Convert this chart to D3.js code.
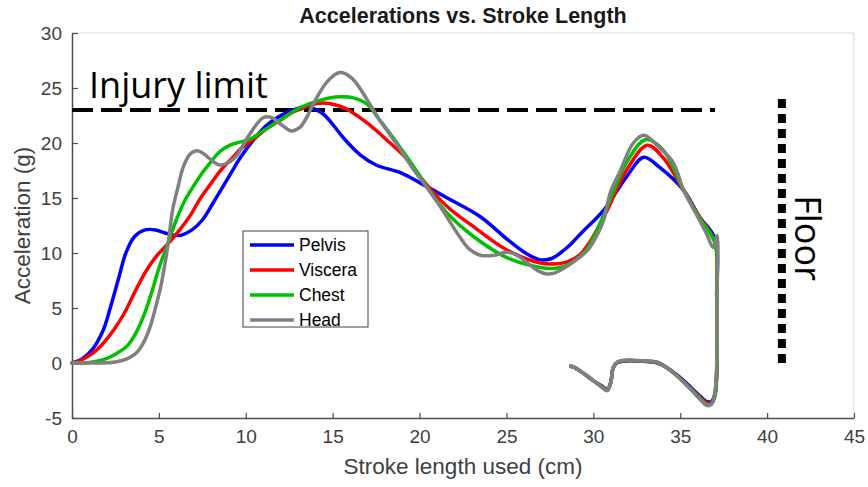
<!DOCTYPE html>
<html>
<head>
<meta charset="utf-8">
<script src="https://cdn.jsdelivr.net/npm/d3@7"></script>
<style>
  body { margin: 0; background: #fff; }
  text { font-family: "Liberation Sans", Arial, sans-serif; }
</style>
</head>
<body>
<div id="chart"></div>
<script>
// series names and colours
const seriesNames = ["Pelvis", "Viscera", "Chest", "Head"];
const seriesColors = ["#0000ff", "#ff0000", "#00c000", "#808080"];

// [stroke length (cm), acceleration (g)]
const pelvis = [[0,0],[0.6,0.4],[1.2,1.3],[1.8,3],[2.2,5],[2.7,7.8],[3.1,10],[3.6,11.5],[4.2,12.1],[4.8,12.1],
  [5.4,11.8],[6.2,11.6],[6.9,12.1],[7.5,13],[8.1,14.5],[8.6,15.8],[9.2,17.4],[9.7,18.7],[10.4,20.2],[11.2,21.6],
  [12.4,22.8],[13.5,23.3],[14.4,22.7],[15,21.7],[15.6,20.5],[16.6,18.9],[17.5,18],[18.9,17.3],[20,16.4],[21.6,15],
  [23.5,13.3],[25,11.3],[26,10.1],[26.9,9.4],[27.6,9.5],[28.1,10],[28.7,10.8],[29.3,11.8],[30.6,13.9],[31.9,16.9],
  [32.9,18.7],[33.8,17.8],[35.2,15.7],[36.1,13.3],[37,11.3],
  [37.1,6],[37.1,-0.9],[37,-2.8],[36.8,-3.5],[36.5,-3.5],[36.2,-3.1],[35.6,-2.2],[34.9,-1.2],[34.3,-0.5],[33.7,0],
  [32.8,0.15],[32,0.2],[31.4,0.05],[31.15,-0.4],[31,-1.8],[30.8,-2.4],[30.5,-2.1],[30,-1.6],[29.4,-0.9],[28.9,-0.4],[28.7,-0.3]];

const viscera = [[0,0],[0.5,0.25],[1.2,0.9],[1.8,1.8],[2.4,3],[3,4.5],[3.6,6.4],[4.2,8.2],[4.8,9.6],[5.5,10.8],
  [6.2,12.1],[6.8,13.4],[7.4,15],[7.9,16.1],[8.6,17.6],[9.2,18.6],[9.8,19.6],[10.5,20.4],[11.2,21.3],[12,22.1],
  [12.7,22.8],[13.5,23.3],[14.1,23.6],[14.8,23.6],[15.5,23.3],[16,22.9],[17,21.8],[18.1,20.3],[19.3,18.5],[20,17],
  [21.6,14.2],[23.1,12.4],[25,10.3],[26.9,9.1],[27.7,9],[28.5,9.2],[29.2,9.8],[29.8,11],[30.8,13.9],[31.9,17.5],
  [33.1,19.8],[34,18.7],[35.2,15.7],[36.1,13.3],[37,11],
  [37.1,6],[37.1,-0.9],[37,-2.9],[36.8,-3.6],[36.5,-3.6],[36.2,-3.2],[35.6,-2.3],[34.9,-1.25],[34.3,-0.5],[33.7,0.02],
  [32.8,0.18],[32,0.22],[31.4,0.08],[31.15,-0.4],[31,-1.8],[30.8,-2.45],[30.5,-2.15],[30,-1.6],[29.4,-0.9],[28.9,-0.4],[28.7,-0.3]];

const chest = [[0,0],[1,0.05],[1.8,0.3],[2.5,0.8],[3.2,1.6],[3.7,2.8],[4.2,4.6],[4.6,6.5],[5,8.6],[5.5,10.8],
  [6,13],[6.5,14.8],[7,16.1],[7.5,17.3],[7.9,18.1],[8.5,19.2],[9.1,19.8],[9.7,20.1],[10.2,20.3],[10.8,20.9],
  [11.4,21.5],[12,22.1],[13.1,23.2],[14.3,23.9],[15.4,24.2],[16.2,24.1],[17,23.5],[17.7,22.1],[18.7,20],[19.9,17.3],
  [20.6,15.6],[21.6,13.6],[23.1,11.5],[25,9.6],[26.9,8.7],[27.7,8.6],[28.5,8.9],[29.6,10.3],[30.8,14.2],[31.9,18.2],
  [33,20.3],[34,19.4],[35.2,15.7],[36.1,13.2],[37,10.9],
  [37.1,6],[37.1,-0.9],[37,-3],[36.8,-3.7],[36.5,-3.75],[36.2,-3.3],[35.6,-2.35],[34.9,-1.3],[34.3,-0.5],[33.7,0.05],
  [32.8,0.2],[32,0.25],[31.4,0.1],[31.15,-0.4],[31,-1.8],[30.8,-2.5],[30.5,-2.2],[30,-1.6],[29.4,-0.9],[28.9,-0.4],[28.7,-0.3]];

const head = [[0,0],[1.5,0],[2.5,0.1],[3.2,0.4],[3.7,0.9],[4.1,1.8],[4.5,3.3],[4.8,5],[5.1,6.9],[5.5,10.5],
  [5.8,14],[6.1,16],[6.4,17.8],[6.8,19],[7.2,19.3],[7.6,19],[7.9,18.6],[8.5,18],[9,18.2],[9.5,18.9],
  [10.1,20.5],[11,22.3],[11.5,22.3],[12.1,21.6],[12.6,21.1],[13.1,21.4],[13.5,22.3],[13.9,23.6],[14.7,25.6],[15.4,26.4],
  [16.1,25.9],[17,23.9],[17.7,22.1],[18.9,19.4],[19.6,17.7],[20.4,16],[21.2,14.2],[22.3,11.5],[22.9,10.3],[23.5,9.8],
  [24.3,9.8],[25,10.1],[25.6,9.8],[26.2,9.1],[26.8,8.4],[27.3,8.1],[27.8,8.2],[28.5,8.8],[29.2,9.6],[29.7,10.3],
  [30.3,11.9],[30.6,13],[31,15.6],[31.5,17.3],[32.3,20],[32.9,20.7],[33.8,19.6],[34.6,18.2],[35.2,15.7],[36,13.3],
  [36.5,11.8],[36.9,10.5],[37.12,11.6],
  [37.12,6],[37.1,0],[37,-2.6],[36.8,-3.75],[36.5,-3.85],[36.2,-3.4],[35.6,-2.4],[34.9,-1.3],[34.3,-0.5],[33.7,0.05],
  [32.8,0.2],[32,0.25],[31.4,0.1],[31.15,-0.4],[31,-1.8],[30.8,-2.5],[30.5,-2.2],[30,-1.6],[29.4,-0.9],[28.9,-0.4],[28.7,-0.3]];

const xTicks = [0, 5, 10, 15, 20, 25, 30, 35, 40, 45];
const yTicks = [-5, 0, 5, 10, 15, 20, 25, 30];
const injuryLimit = 23;       // g
const injuryLimitEnd = 37;    // cm
const floorX = 40.85;         // cm
const floorTop = 24;          // g

const width = 868, height = 487;
const margin = { top: 33, right: 14, bottom: 69, left: 72 };

const svg = d3.select("#chart").append("svg")
  .attr("width", width)
  .attr("height", height);

svg.append("rect").attr("width", width).attr("height", height).attr("fill", "#fff");

const x = d3.scaleLinear().domain([0, 45]).range([margin.left, width - margin.right]);
const y = d3.scaleLinear().domain([-5, 30]).range([height - margin.bottom, margin.top]);

// box (light top/right edges)
svg.append("path")
  .attr("d", `M${x(0)},${y(30)}H${x(45)}V${y(-5)}`)
  .attr("fill", "none")
  .attr("stroke", "#d9d9d9")
  .attr("stroke-width", 1);

const axisColor = "#4d4d4d";

const xAxis = svg.append("g")
  .attr("transform", `translate(0,${y(-5)})`)
  .call(d3.axisBottom(x).tickValues(xTicks).tickSize(-5).tickSizeOuter(0).tickPadding(12)
    .tickFormat(d => String(d)));

const yAxis = svg.append("g")
  .attr("transform", `translate(${x(0)},0)`)
  .call(d3.axisLeft(y).tickValues(yTicks).tickSize(-6).tickSizeOuter(0).tickPadding(10)
    .tickFormat(d => String(d)));

[xAxis, yAxis].forEach(g => {
  g.select(".domain").attr("stroke", axisColor).attr("stroke-width", 1.5);
  g.selectAll(".tick line").attr("stroke", axisColor).attr("stroke-width", 1.2);
  g.selectAll(".tick text")
    .attr("fill", "#404040")
    .style("font-size", "19px")
    .style("font-family", "'Liberation Sans', Arial, sans-serif");
});

// title and axis labels
svg.append("text")
  .attr("x", 463).attr("y", 23)
  .attr("text-anchor", "middle")
  .attr("font-weight", "bold")
  .attr("font-size", 21.5)
  .attr("fill", "#1a1a1a")
  .text("Accelerations vs. Stroke Length");

svg.append("text")
  .attr("x", (x(0) + x(45)) / 2).attr("y", 474)
  .attr("text-anchor", "middle")
  .attr("font-size", 22.5)
  .attr("fill", "#404040")
  .text("Stroke length used (cm)");

svg.append("text")
  .attr("transform", `translate(30,${(y(-5) + y(30)) / 2}) rotate(-90)`)
  .attr("text-anchor", "middle")
  .attr("font-size", 22.5)
  .attr("fill", "#404040")
  .text("Acceleration (g)");

// injury limit
svg.append("line")
  .attr("x1", x(0)).attr("x2", x(injuryLimitEnd))
  .attr("y1", y(injuryLimit)).attr("y2", y(injuryLimit))
  .attr("stroke", "#000")
  .attr("stroke-width", 4)
  .attr("stroke-dasharray", "21,8");

svg.append("text")
  .attr("x", 89).attr("y", 98)
  .style("font-family", "'Open Sans', sans-serif")
  .attr("font-size", 36)
  .attr("fill", "#000")
  .text("Injury limit");

// floor
svg.append("line")
  .attr("x1", x(floorX)).attr("x2", x(floorX))
  .attr("y1", y(0)).attr("y2", y(floorTop))
  .attr("stroke", "#000")
  .attr("stroke-width", 8)
  .attr("stroke-dasharray", "9,6");

svg.append("text")
  .attr("transform", `translate(795,238) rotate(90)`)
  .attr("text-anchor", "middle")
  .style("font-family", "'Open Sans', sans-serif")
  .attr("font-size", 36)
  .attr("fill", "#000")
  .text("Floor");

// curves
const line = d3.line()
  .x(d => x(d[0]))
  .y(d => y(d[1]))
  .curve(d3.curveCatmullRom.alpha(0.5));

const allSeries = [pelvis, viscera, chest, head];

svg.append("g").selectAll("path")
  .data(allSeries)
  .join("path")
  .attr("d", line)
  .attr("fill", "none")
  .attr("stroke", (d, i) => seriesColors[i])
  .attr("stroke-width", 3.5)
  .attr("stroke-linejoin", "round")
  .attr("stroke-linecap", "round");

// legend
const legend = svg.append("g").attr("transform", "translate(243,231)");
legend.append("rect")
  .attr("width", 125).attr("height", 96)
  .attr("fill", "#fff")
  .attr("stroke", "#404040")
  .attr("stroke-width", 1);

const entries = legend.selectAll("g.entry")
  .data(seriesNames)
  .join("g")
  .attr("class", "entry")
  .attr("transform", (d, i) => `translate(0,${14 + i * 25})`);

entries.append("line")
  .attr("x1", 7).attr("x2", 51)
  .attr("stroke", (d, i) => seriesColors[i])
  .attr("stroke-width", 3.5);

entries.append("text")
  .attr("x", 56).attr("y", 6)
  .attr("font-size", 17.5)
  .attr("fill", "#000")
  .text(d => d);
</script>
</body>
</html>
